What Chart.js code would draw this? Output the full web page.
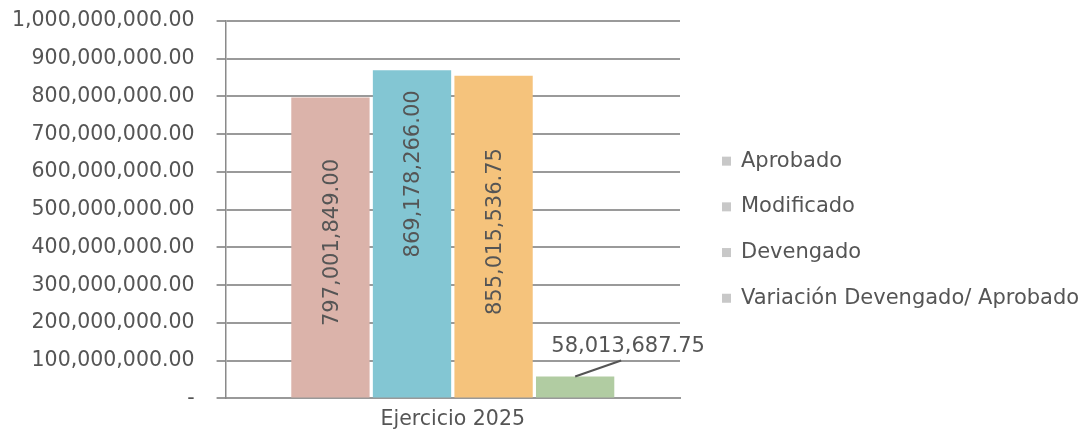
<!DOCTYPE html>
<html>
<head>
<meta charset="utf-8">
<script src="https://cdn.jsdelivr.net/npm/chart.js@4.4.1/dist/chart.umd.min.js"></script>
<style>
	html, body { margin: 0; padding: 0; background: #fff; }
	#wrap { width: 1086px; height: 441px; position: relative; }
</style>
</head>
<body>
<div id="wrap"><canvas id="myChart"></canvas></div>
<script>
	let categories = ["Ejercicio 2025"];
	let seriesNames = ["Aprobado", "Modificado", "Devengado", "Variación Devengado/ Aprobado"];
	let aprobado = [797001849.00];
	let modificado = [869178266.00];
	let devengado = [855015536.75];
	let variacion = [58013687.75];
	let yTickValues = [0, 100000000, 200000000, 300000000, 400000000, 500000000, 600000000, 700000000, 800000000, 900000000, 1000000000];
	let barColors = ["#dbb3aa", "#83c6d3", "#f5c37c", "#b1cca2"];

	let fontFam = '"DejaVu Sans", Verdana, sans-serif';
	let textColor = "#555";

	function fmt(v) {
		if (v === 0) return "-";
		return v.toLocaleString("en-US", { minimumFractionDigits: 2, maximumFractionDigits: 2 });
	}

	// value labels: rotated inside the tall bars, leader line for the small one
	const barLabels = {
		id: "barLabels",
		afterDatasetsDraw(chart) {
			let ctx = chart.ctx;
			let shift = [-5, -60, -5, 0];
			chart.data.datasets.forEach((ds, i) => {
				let bar = chart.getDatasetMeta(i).data[0];
				let txt = fmt(ds.data[0]);
				ctx.save();
				ctx.fillStyle = textColor;
				ctx.font = "21px " + fontFam;
				if (ds.data[0] > 200000000) {
					ctx.translate(bar.x + 2, (bar.y + bar.base) / 2 + shift[i]);
					ctx.rotate(-Math.PI / 2);
					ctx.textAlign = "center";
					ctx.textBaseline = "middle";
					ctx.fillText(txt, 0, 0);
				} else {
					let lx = bar.x + 46, ly = bar.y - 16;
					ctx.strokeStyle = textColor;
					ctx.lineWidth = 2;
					ctx.beginPath();
					ctx.moveTo(bar.x, bar.y);
					ctx.lineTo(lx, ly);
					ctx.stroke();
					ctx.textAlign = "center";
					ctx.textBaseline = "alphabetic";
					ctx.fillText(txt, bar.x + 53, ly - 9);
				}
				ctx.restore();
			});
		}
	};

	// legend to the right of the plot, drawn by hand (built-in one is capped in width)
	const sideLegend = {
		id: "sideLegend",
		afterDraw(chart) {
			let ctx = chart.ctx;
			let area = chart.chartArea;
			let step = 45.7;
			let y0 = (area.top + area.bottom) / 2 + 20 - step * (seriesNames.length - 1) / 2;
			let x0 = area.right + 42;
			ctx.save();
			ctx.font = "21px " + fontFam;
			ctx.textBaseline = "middle";
			ctx.textAlign = "left";
			seriesNames.forEach((name, i) => {
				let y = y0 + i * step;
				ctx.fillStyle = "#c8c8c8";
				ctx.fillRect(x0, y - 4.5, 9, 9);
				ctx.fillStyle = textColor;
				ctx.fillText(name, x0 + 19, y);
			});
			ctx.restore();
		}
	};

	let datasets = [aprobado, modificado, devengado, variacion].map((d, i) => ({
		label: seriesNames[i],
		data: d,
		backgroundColor: barColors[i],
		borderWidth: 0,
		categoryPercentage: 0.718,
		barPercentage: 0.96
	}));

	new Chart("myChart", {
		type: "bar",
		data: { labels: categories, datasets: datasets },
		plugins: [barLabels, sideLegend],
		options: {
			responsive: true,
			maintainAspectRatio: false,
			animation: false,
			layout: { padding: { left: -10, top: 0, right: 406, bottom: 0 } },
			plugins: {
				tooltip: { enabled: false },
				legend: { display: false }
			},
			scales: {
				x: {
					grid: { display: false, drawTicks: false },
					border: { display: true, color: "#999", width: 2 },
					ticks: { color: textColor, font: { size: 20.5, family: fontFam }, padding: 9 }
				},
				y: {
					min: 0,
					max: 1000000000,
					afterBuildTicks(axis) { axis.ticks = yTickValues.map(v => ({ value: v })); },
					afterFit(axis) { axis.paddingTop = 21; },
					grid: { color: "#9a9a9a", lineWidth: 2, tickLength: 9 },
					border: { display: true, color: "#8a8a8a", width: 1.5 },
					ticks: {
						color: textColor,
						font: { size: 20.5, family: fontFam },
						padding: 22,
						callback: (v) => fmt(v)
					}
				}
			}
		}
	});
</script>
</body>
</html>
